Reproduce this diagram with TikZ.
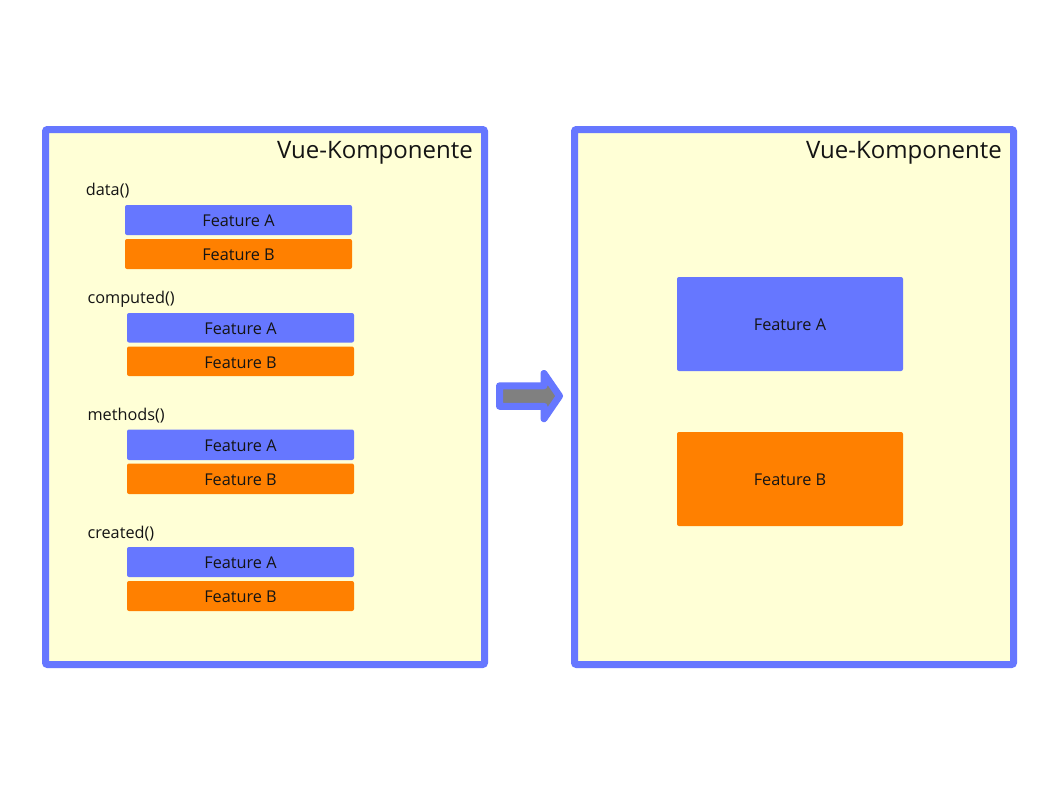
\documentclass[tikz,border=0pt]{standalone}
\usepackage{fontspec}
\setmainfont{Open Sans}
\definecolor{vblue}{RGB}{102,119,255}
\definecolor{vorange}{RGB}{255,128,0}
\definecolor{vbg}{RGB}{255,255,214}
\definecolor{vgray}{RGB}{128,128,128}
\definecolor{vtext}{RGB}{20,20,20}
\begin{document}
\begin{tikzpicture}[x=0.75pt,y=-0.75pt,
  frame/.style={draw=vblue,fill=vbg,line width=5.25pt,rounded corners=1.5pt},
  fa/.style={fill=vblue,rounded corners=1.5pt},
  fb/.style={fill=vorange,rounded corners=1.5pt},
  ftext/.style={font=\fontsize{12.2}{14}\selectfont,text=vtext,inner sep=0pt,yshift=-0.6pt},
  lbl/.style={font=\fontsize{12.2}{14}\selectfont,text=vtext,inner sep=0pt,anchor=base west},
  title/.style={font=\fontsize{18}{21}\selectfont,text=vtext,inner sep=0pt,anchor=base east}]
\useasboundingbox (0,0) rectangle (1058,794);
\fill[white] (0,0) rectangle (1058,794);
% frames
\draw[frame] (45.5,129.5) rectangle (484.5,664.5);
\draw[frame] (574.5,129.5) rectangle (1013.5,664.5);
\node[title] (t1) at (473,158.8) {Vue-Komponente};
\node[title] (t2) at (1002,158.8) {Vue-Komponente};
% left groups
\node[lbl] (l1) at (85.7,195) {data()};
\fill[fa] (125,205) rectangle (352,235);
\node[ftext] (d1) at (238.5,220) {Feature A};
\fill[fb] (125,239) rectangle (352,269);
\node[ftext] (d2) at (238.5,254) {Feature B};
\node[lbl] (l2) at (87.3,303) {computed()};
\fill[fa] (127,313) rectangle (354,342.5);
\node[ftext] (c1) at (240.5,327.5) {Feature A};
\fill[fb] (127,346.5) rectangle (354,376);
\node[ftext] (c2) at (240.5,361.5) {Feature B};
\node[lbl] (l3) at (87.3,420.5) {methods()};
\fill[fa] (127,429.5) rectangle (354,460);
\node[ftext] (m1) at (240.5,445) {Feature A};
\fill[fb] (127,463.5) rectangle (354,494);
\node[ftext] (m2) at (240.5,479) {Feature B};
\node[lbl] (l4) at (87.3,538.3) {created()};
\fill[fa] (127,547) rectangle (354,577);
\node[ftext] (r1) at (240.5,562) {Feature A};
\fill[fb] (127,581) rectangle (354,611);
\node[ftext] (r2) at (240.5,596) {Feature B};
% right boxes
\fill[fa] (677,277) rectangle (903,371);
\node[ftext] (ba) at (790,324) {Feature A};
\fill[fb] (677,432) rectangle (903,526);
\node[ftext] (bb) at (790,479) {Feature B};
% arrow
\draw[draw=vblue,fill=vgray,line width=5.25pt,line join=round]
  (499.5,385.8) -- (544,385.8) -- (544,373.5) -- (559.5,396) -- (544,418.7)
  -- (544,406.3) -- (499.5,406.3) -- cycle;
\end{tikzpicture}
\end{document}
